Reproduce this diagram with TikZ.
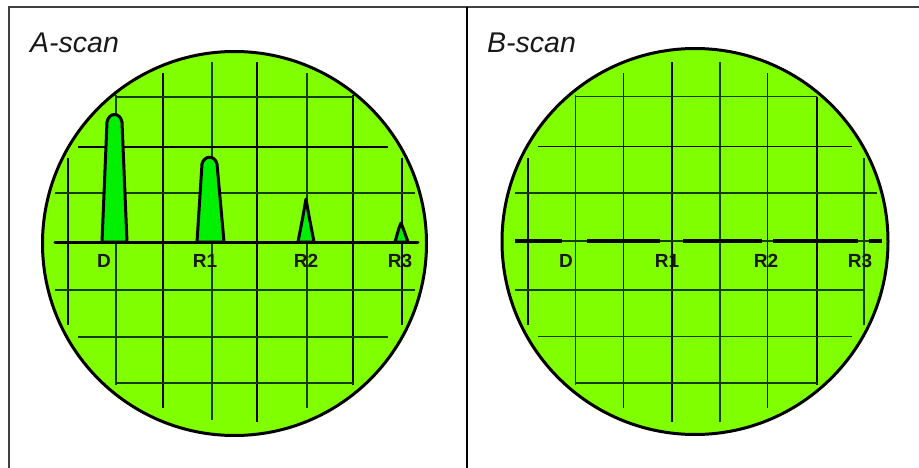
\documentclass[tikz,border=0pt]{standalone}
\usepackage{fontspec}
\setmainfont{Liberation Sans}
\definecolor{scr}{RGB}{128,255,0}
\definecolor{peak}{RGB}{0,240,0}
\definecolor{gridg}{RGB}{20,62,0}
\definecolor{frame}{RGB}{64,64,64}
\definecolor{ttlc}{RGB}{25,25,25}
\begin{document}
\begin{tikzpicture}[x=1pt,y=-1pt,
  gk/.style={draw=black,line width=1.6},
  gg/.style={draw=gridg,line width=1.5},
  trace/.style={draw=black,line width=3,line join=round,line cap=round},
  pk/.style={trace,fill=peak},
  seg/.style={draw=black,line width=3.4},
  lbl/.style={font=\fontsize{19}{19}\selectfont\bfseries,text=black!90,anchor=base,inner sep=0pt},
  ttl/.style={font=\fontsize{28.5}{28.5}\selectfont\itshape,text=ttlc,anchor=base west,inner sep=0pt},
  framel/.style={draw=frame,line width=2}]
\useasboundingbox (0,0) rectangle (919,468);
% frame
\coordinate (ftl) at (9,7.5);
\coordinate (ftr) at (919,7.5);
\coordinate (fbl) at (9,468);
\coordinate (dtop) at (467,7.5);
\coordinate (dbot) at (467,468);
\draw[framel] (fbl) -- (ftl) -- (ftr);
\draw[draw=black,line width=1.8] (dtop) -- (dbot);
% titles
\node[ttl] (tA) at (30,52.5) {A-scan};
\node[ttl] (tB) at (487,52.5) {B-scan};

% ---------- A-scan screen ----------
\fill[scr] (234.5,243.5) circle[radius=192];
% verticals
\draw[gk] (68,158) -- (68,325);
\draw[gg] (116,95) -- (116,385);
\draw[gk] (163,73) -- (163,408);
\draw[gg] (212,62) -- (212,420);
\draw[gk] (257,62) -- (257,422);
\draw[gg] (307,73) -- (307,408);
\draw[gk] (353,95) -- (353,385);
\draw[gk] (402,158) -- (402,325);
% horizontals
\draw[gg] (115,97) -- (353,97);
\draw[gk] (78,147) -- (388,147);
\draw[gg] (55,193) -- (415,193);
\draw[gg] (55,290) -- (415,290);
\draw[gg] (78,337) -- (388,337);
\draw[gg] (115,383) -- (353,383);
% trace
\draw[trace] (55,242) -- (418,242);
\draw[pk] (102,242) -- (107,122) .. controls (109,112) and (120,112) .. (122,122) -- (127,242) -- cycle;
\draw[pk] (197,242) -- (202,164) .. controls (204,155) and (215,155) .. (217,164) -- (224,242) -- cycle;
\draw[pk] (298,242) -- (303,216) -- (306,199) -- (309,216) -- (314,242) -- cycle;
\draw[pk] (395,242) -- (399,228) -- (401,223) -- (403,228) -- (408,242) -- cycle;
\draw[draw=black,line width=3] (234.5,243.5) circle[radius=192];
\node[lbl] (aD) at (104,267) {D};
\node[lbl] (aR1) at (205,267) {R1};
\node[lbl] (aR2) at (306,267) {R2};
\node[lbl] (aR3) at (400,267) {R3};

% ---------- B-scan screen ----------
\fill[scr] (695,241.5) circle[radius=193];
% verticals
\draw[gk] (527.7,158) -- (527.7,325);
\draw[gg] (575.7,95) -- (575.7,385);
\draw[gk] (623.3,73) -- (623.3,408);
\draw[gk] (671.7,62) -- (671.7,422);
\draw[gg] (720,62) -- (720,422);
\draw[gk] (767.3,73) -- (767.3,408);
\draw[gk] (816.7,97) -- (816.7,385);
\draw[gg] (864,158) -- (864,325);
% horizontals
\draw[gg] (575,96.7) -- (817,96.7);
\draw[gk] (538,146.7) -- (852,146.7);
\draw[gg] (515,193) -- (877,193);
\draw[gg] (515,290) -- (863,290);
\draw[gg] (538,336.7) -- (852,336.7);
\draw[gg] (575,383) -- (817,383);
% dashed trace
\draw[gg] (515,241) -- (882,241);
\draw[seg] (515,241) -- (562,241);
\draw[seg] (587,241) -- (660,241);
\draw[seg] (683,241) -- (762,241);
\draw[seg] (773,241) -- (858,241);
\draw[seg] (869,241) -- (882,241);
\draw[draw=black,line width=3] (695,241.5) circle[radius=193];
\node[lbl] (bD) at (566,267) {D};
\node[lbl] (bR1) at (667,267) {R1};
\node[lbl] (bR2) at (766,267) {R2};
\node[lbl] (bR3) at (860,267) {R3};
\end{tikzpicture}
\end{document}
